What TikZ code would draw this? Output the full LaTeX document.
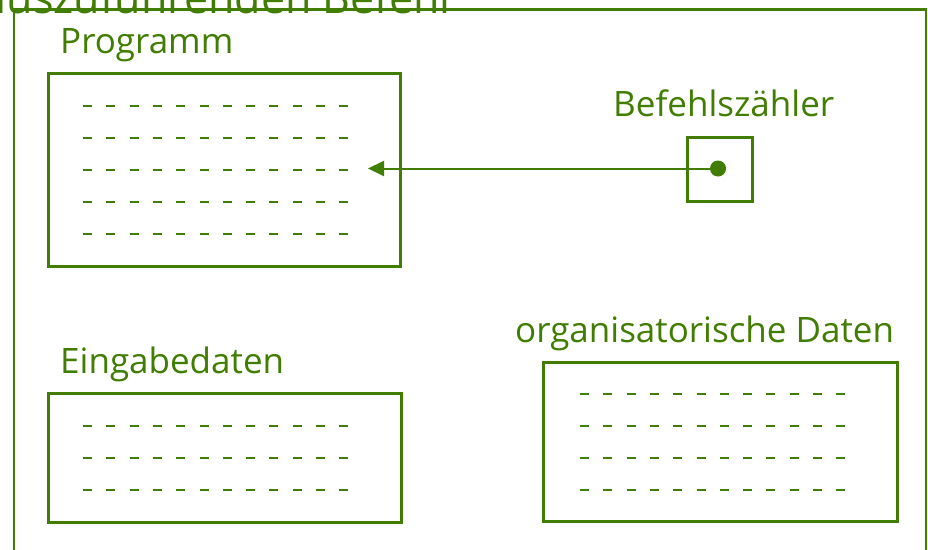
\documentclass[tikz,border=0pt]{standalone}
\usepackage{fontspec}
\setmainfont{Open Sans}
\usetikzlibrary{arrows.meta}
\definecolor{grn}{RGB}{64,125,0}
\begin{document}
\begin{tikzpicture}[x=1pt,y=-1pt,
  frame/.style={draw=grn, line width=2.5pt},
  databox/.style={draw=grn, line width=2.6pt, inner sep=0pt, anchor=north west},
  lbl/.style={text=grn, inner sep=0pt, anchor=base west, font=\fontsize{35}{40}\selectfont},
  title/.style={text=grn, inner sep=0pt, anchor=base east, font=\fontsize{43}{48}\selectfont},
  dashrow/.style={draw=grn, line width=2.6pt, dash pattern=on 9pt off 14.3pt},
  pointer/.style={draw=grn, line width=2pt, -{Triangle[length=16pt,width=15pt]}},
  dot/.style={circle, fill=grn, inner sep=0pt, minimum size=16pt}]
\useasboundingbox (0,0) rectangle (928,549);
\fill[white] (0,0) rectangle (928,549);
% title (cut off at the top edge, as in the reference)
\node[title] (title) at (451,13) {auszuführenden Befehl};
% outer frame
\draw[frame] (14,9.5) rectangle (926,570);
% Programm
\node[lbl] (lprog) at (60,53) {Programm};
\node[databox, minimum width=352pt, minimum height=193pt] (prog) at (47,72) {};
\foreach \y in {106,138,170,202,234} \draw[dashrow] (83,\y) -- (352,\y);
% Befehlszaehler
\node[lbl] (lbz) at (613,116) {Befehlszähler};
\node[databox, minimum width=65pt, minimum height=64pt] (bz) at (686,136) {};
\node[dot] (bzdot) at (718,168.5) {};
\coordinate (ptr) at (368,168.5);
\draw[pointer] (bzdot.center) -- (ptr);
% Eingabedaten
\node[lbl] (lein) at (60,373) {Eingabedaten};
\node[databox, minimum width=353pt, minimum height=129pt] (ein) at (47,392) {};
\foreach \y in {426,458,490} \draw[dashrow] (83,\y) -- (352,\y);
% organisatorische Daten
\node[lbl] (lorg) at (515,342) {organisatorische Daten};
\node[databox, minimum width=354pt, minimum height=159pt] (org) at (542,361) {};
\foreach \y in {394,426,458,490} \draw[dashrow] (580,\y) -- (849,\y);
\end{tikzpicture}
\end{document}
